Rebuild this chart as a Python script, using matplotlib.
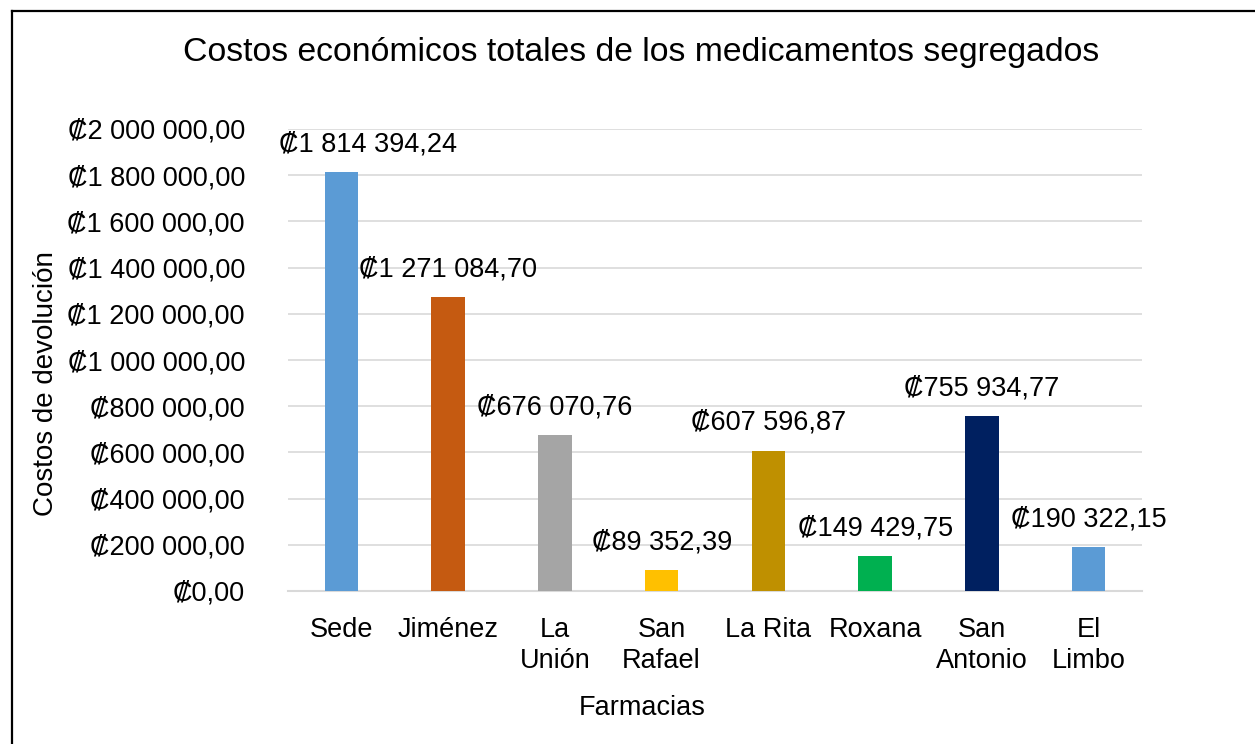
import matplotlib.pyplot as plt
from matplotlib.lines import Line2D
from matplotlib.ticker import FuncFormatter, MultipleLocator

# data
farmacias = ['Sede', 'Jiménez', 'La\nUnión', 'San\nRafael', 'La Rita',
             'Roxana', 'San\nAntonio', 'El\nLimbo']
costos = [1814394.24, 1271084.70, 676070.76, 89352.39, 607596.87,
          149429.75, 755934.77, 190322.15]
colores = ['#5B9BD5', '#C55A11', '#A5A5A5', '#FFC000', '#BF9000',
           '#00B050', '#002060', '#5B9BD5']

FONT = ['Liberation Sans', 'DejaVu Sans']
plt.rcParams['font.family'] = FONT


def colon(v, decimals=2):
    """Format as Costa Rican colón: space thousands, comma decimals."""
    s = f'{v:,.{decimals}f}'
    s = s.replace(',', ' ').replace('.', ',')
    return '\u20a1' + s


fig = plt.figure(figsize=(12.55, 7.44), dpi=100)
ax = fig.add_axes([288 / 1255, 1 - 591 / 744, (1142 - 288) / 1255, (591 - 129) / 744])

x = range(len(farmacias))
bars = ax.bar(x, costos, width=0.314, color=colores, zorder=3)

ax.set_xlim(-0.5, len(farmacias) - 0.5)
ax.set_ylim(0, 2000000)
ax.yaxis.set_major_locator(MultipleLocator(200000))
ax.yaxis.set_major_formatter(FuncFormatter(lambda v, p: colon(v)))
ax.grid(axis='y', color='#D9D9D9', linewidth=1.2, zorder=0)
for s in ['top', 'right', 'left']:
    ax.spines[s].set_visible(False)
ax.spines['bottom'].set_color('#D9D9D9')
ax.spines['bottom'].set_linewidth(1.5)
ax.tick_params(length=0, labelsize=19.5)
ax.tick_params(axis='y', pad=31)
ax.set_xticks(list(x))
ax.set_xticklabels(farmacias, linespacing=1.25)
ax.tick_params(axis='x', pad=19)

# data labels above each bar; first one nudged right as in the original
for i, (b, v) in enumerate(zip(bars, costos)):
    dx = 19 if i == 0 else 0
    ax.annotate(colon(v), (b.get_x() + b.get_width() / 2, v),
                xytext=(dx, 20), textcoords='offset points',
                ha='center', va='center', fontsize=19.5)

fig.text(46 / 1255, 1 - 384 / 744, 'Costos de devolución', rotation=90,
         ha='center', va='center', fontsize=20)
fig.text(642 / 1255, 1 - 708 / 744, 'Farmacias',
         ha='center', va='center', fontsize=19.5)

fig.text(641 / 1255, 1 - 52 / 744, 'Costos económicos totales de los medicamentos segregados',
         ha='center', va='center', fontsize=24.3)

# chart border (only top and left edges visible in the crop)
fig.add_artist(Line2D([12 / 1255, 1.0], [1 - 11 / 744] * 2, color='black', lw=1.6))
fig.add_artist(Line2D([12 / 1255] * 2, [0.0, 1 - 11 / 744], color='black', lw=1.6))

fig.savefig('out.png', dpi=100)
